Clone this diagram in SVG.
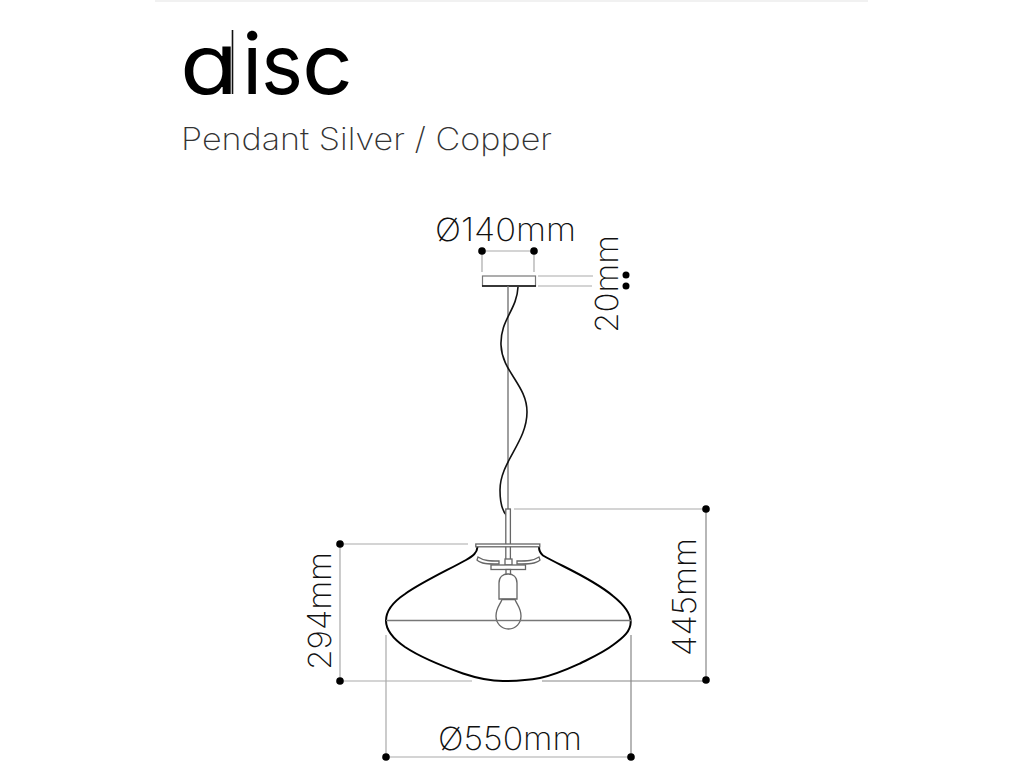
<svg xmlns="http://www.w3.org/2000/svg" width="1024" height="768" viewBox="0 0 1024 768">
<style>
.t{font-family:"Inter","Liberation Sans",sans-serif}
.dim{font-size:32px;font-weight:200;fill:#111}
.ext{stroke:#aaa;stroke-width:1.2;fill:none}
.ext2{stroke:#888;stroke-width:1.2;fill:none}
.lamp{stroke:#666;stroke-width:1.3;fill:#fff}
.blk{stroke:#000;stroke-width:2;fill:none}
.dot{fill:#000}
</style>
<rect width="1024" height="768" fill="#fff"/>
<rect x="155" y="0" width="713" height="2" fill="#f1f1f1"/>
<g id="title">
<text class="t" y="94" font-size="84" font-weight="400" fill="#000"><tspan x="180" textLength="58" lengthAdjust="spacingAndGlyphs">d</tspan><tspan x="242">i</tspan><tspan x="261" textLength="42" lengthAdjust="spacingAndGlyphs">s</tspan><tspan x="302" textLength="51" lengthAdjust="spacingAndGlyphs">c</tspan></text>
<rect x="215" y="24" width="24" height="22.500" fill="#fff"/>
<line x1="232.500" y1="30" x2="232.500" y2="94" stroke="#111" stroke-width="1.6"/>
</g>
<text id="subtitle" class="t" x="181" y="150" font-size="31" font-weight="200" fill="#333" textLength="371" lengthAdjust="spacingAndGlyphs">Pendant Silver / Copper</text>
<g id="connectors">
<path class="ext" d="M482 251H534M482 251V272M534 251V272M538 276H593M538 286H592"/>
<path class="ext" d="M514 509H706M340 544H468M340 544V681M340 681H472M386 635V757M386 757H631"/>
<path class="ext2" d="M542 681H706M706 509V681M631 635V757"/>
<circle class="dot" cx="482" cy="251" r="3.800"/><circle class="dot" cx="534" cy="251" r="3.800"/>
<circle class="dot" cx="626" cy="275" r="3.500"/><circle class="dot" cx="626" cy="286" r="3.500"/>
<circle class="dot" cx="340" cy="544" r="3.800"/><circle class="dot" cx="340" cy="681" r="3.800"/>
<circle class="dot" cx="706" cy="509" r="3.800"/><circle class="dot" cx="706" cy="680" r="3.800"/>
<circle class="dot" cx="386" cy="757" r="3.800"/><circle class="dot" cx="631" cy="757" r="3.800"/>
</g>
<g id="canopy"><rect x="482.500" y="276" width="53" height="10" fill="#fff" stroke="#777" stroke-width="1.2"/><line x1="482" y1="286" x2="536" y2="286" stroke="#111" stroke-width="1.4"/></g>
<g id="cord">
<line x1="508" y1="286" x2="508" y2="510" stroke="#777" stroke-width="1.4"/>
<path d="M518 287C517 310 500 320 501 345C502 372 527 385 527 412C527 442 500 462 500 490C500 503 503 512 507 516" fill="none" stroke="#111" stroke-width="1.6"/>
</g>
<g id="shade">
<path class="blk" d="M477.500 547C477 553 473 556 466 560C448 570 422 582 405 594C393 602 386 610 386 620.700C386 631 395 640 405 647C420 657 442 666 463 673.500C478 678.500 490 681 503 681C517 681 529 680 540 678C555 675 568 669 580 663.500C593 657 604 652 613 645C624 637 630.700 631 630.700 622C630.700 612 623 604 613 596C600 585 575 572 563 566C555 562 549 559 543 555.500C540 553 539 550 539 547"/>
<line x1="386" y1="620.500" x2="631" y2="620.500" stroke="#777" stroke-width="1.4"/>
</g>
<g id="fitting">
<rect class="lamp" x="505.800" y="509" width="4.600" height="56"/>
<rect class="lamp" x="475.800" y="544" width="64" height="2.800"/>
<path class="lamp" d="M478 557C484 561 490 561 499 561V564C488 564 481 564 477 560Z"/>
<path class="lamp" d="M539 557C533 561 527 561 517 561V564C528 564 536 564 540 560Z"/>
<rect class="lamp" x="505" y="559" width="7" height="6"/>
<rect class="lamp" x="491" y="565" width="34.500" height="4.500"/>
<rect class="lamp" x="506" y="569.500" width="4.500" height="5"/>
<path class="lamp" d="M499 599V583C499 577 503 574 508 574C513 574 517 577 517 583V599Z"/>
<path class="lamp" d="M502 599.500C500 605 496 608 496 616C496 623 501 629 508.500 629C516 629 521 623 521 616C521 608 517 605 515 599.500Z"/>
<line x1="496" y1="620.500" x2="521" y2="620.500" stroke="#777" stroke-width="1.4"/>
</g>
<g id="labels">
<text class="t dim" x="435" y="241" textLength="141" lengthAdjust="spacingAndGlyphs">Ø140mm</text>
<text class="t dim" transform="translate(618 333) rotate(-90)" textLength="98" lengthAdjust="spacingAndGlyphs">20mm</text>
<text class="t dim" transform="translate(331 670) rotate(-90)" textLength="118" lengthAdjust="spacingAndGlyphs">294mm</text>
<text class="t dim" transform="translate(696 656) rotate(-90)" textLength="118" lengthAdjust="spacingAndGlyphs">445mm</text>
<text class="t dim" x="438" y="750" textLength="144" lengthAdjust="spacingAndGlyphs">Ø550mm</text>
</g>
</svg>
